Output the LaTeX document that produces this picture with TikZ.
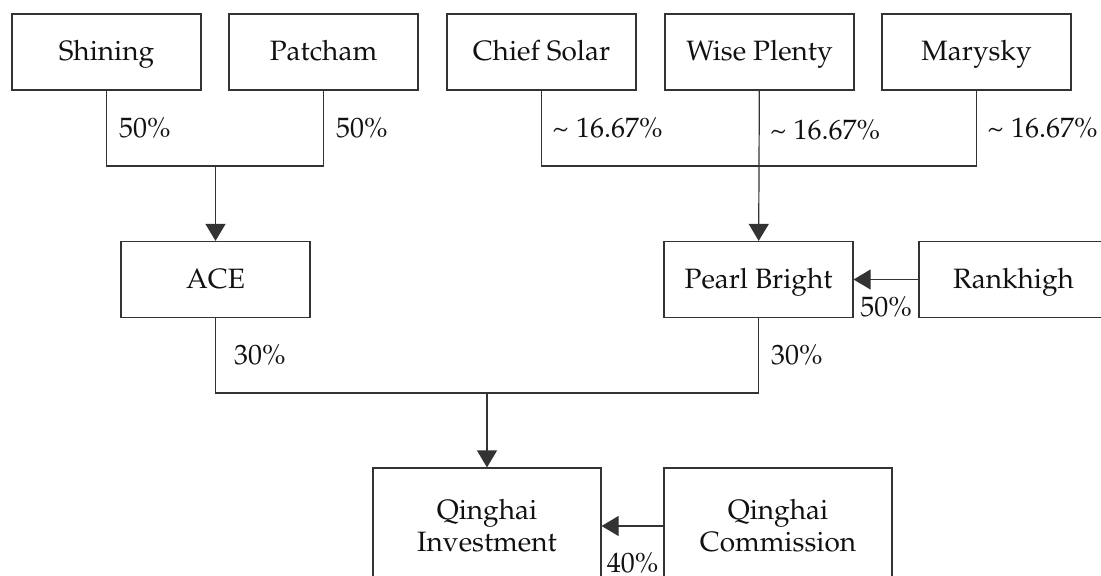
\documentclass[tikz,border=0pt]{standalone}
\usepackage[T1]{fontenc}
\usepackage{mathpazo}
\usetikzlibrary{arrows.meta}
\definecolor{linegray}{HTML}{333333}
\definecolor{textgray}{HTML}{111111}

\begin{document}
\begin{tikzpicture}[x=0.5pt,y=-0.5pt,
  font=\fontsize{14}{16}\selectfont, text=textgray,
  box/.style={draw=linegray, line width=0.6pt, minimum width=94.5pt, minimum height=38pt, inner sep=0pt,
    text height=11.5pt, text depth=2.5pt},
  bigbox/.style={draw=linegray, line width=0.6pt, minimum width=114pt, minimum height=58pt, align=center},
  link/.style={draw=linegray, line width=0.6pt},
  arr/.style={link, -{Triangle[width=10pt,length=8.5pt]}},
  pct/.style={anchor=west, xshift=5pt, inner sep=1pt}]
  \useasboundingbox (0,0) rectangle (1101,576);
  \clip (0,0) rectangle (1101,576);

  % owners on top
  \node[box] (shining) at (106.5,52) {Shining};
  \node[box] (patcham) at (323.5,52) {Patcham};
  \node[box] (chief) at (541.5,52) {Chief Solar};
  \node[box] (wise) at (759.5,52) {Wise Plenty};
  \node[box] (marysky) at (976.5,52) {Marysky};

  % middle row
  \node[box] (ace) at (215.5,279.5) {ACE};
  \node[box] (pearl) at (758.5,279.5) {Pearl Bright};
  \node[box] (rankhigh) at (1013.5,279.5) {Rankhigh};

  % bottom row
  \node[bigbox] (qinv) at (487,526) {Qinghai\\Investment};
  \node[bigbox] (qcom) at (778,526) {Qinghai\\Commission};

  \coordinate (j1) at (215.5,166);
  \coordinate (j2) at (759.5,166);
  \coordinate (j3) at (487,393);

  \draw[link] (shining.south) |- node[pct,pos=0.25] {50\%} (j1)
    -| node[pct,pos=0.75] {50\%} (patcham.south);
  \draw[arr] (j1) -- (ace);

  \draw[link] (chief.south) |- node[pct,pos=0.25,xshift=-1pt] {\textasciitilde\ 16.67\%} (j2)
    -| node[pct,pos=0.75,xshift=-1pt] {\textasciitilde\ 16.67\%} (marysky.south);
  \draw[arr] (wise) -- node[pct,pos=0.26,xshift=-1pt] {\textasciitilde\ 16.67\%} (pearl);

  \draw[arr] (rankhigh) -- node[anchor=north,inner sep=0pt,yshift=-8.5pt] {50\%} (pearl);

  \draw[link] (ace.south) |- node[pct,pos=0.25,xshift=3pt] {30\%} (j3)
    -| node[pct,pos=0.75] {30\%} (pearl.south);
  \draw[arr] (j3) -- (qinv);

  \draw[arr] (qcom) -- node[anchor=north,inner sep=0pt,yshift=-13pt] {40\%} (qinv);
\end{tikzpicture}
\end{document}
